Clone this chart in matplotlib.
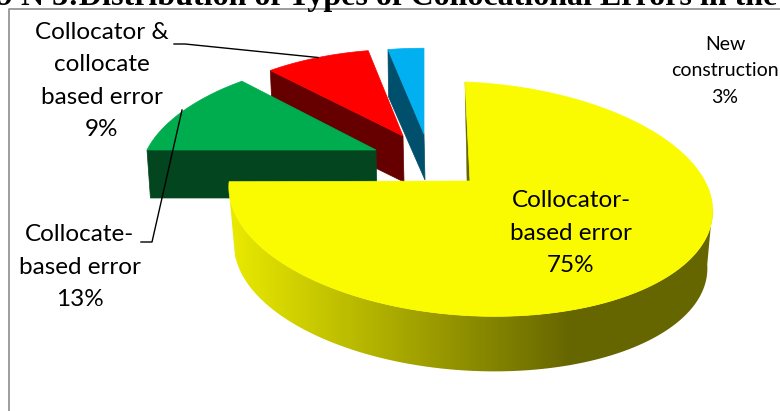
import numpy as np
import matplotlib
matplotlib.use('Agg')
import matplotlib.pyplot as plt
from matplotlib.patches import Polygon
from matplotlib.colors import LinearSegmentedColormap

labels=['Collocator-\nbased error\n75%','Collocate-\nbased error\n13%','Collocator &\ncollocate\nbased error\n9%','New\nconstruction\n3%']
shares=[75,13,9,3]
top_colors=['#fafa00','#00ad4e','#ff0000','#00b0f0']
wall_colors=['#666600','#03451f','#660000','#004f6c']

# per slice layout: apex x, apex y, rx, ry, x perspective, skew, tilt, angle stretch, wall depth, wall shrink
layout=[(470,181,239,114,0.154,5,0.04,0.981,58,0.978),
        (376,150,229,105,0.232,0,0,1,48,0.985),
        (403,136,222,100,0.20,0,0,1,46,0.985),
        (424,134,230,99,0.20,0,0,1,46,0.985)]
ky=0.154

def rim(i,a0,a1,n=120):
    # points on the projected circle, angles clockwise from 12 o'clock
    cx,cy,rx,ry,kx,sk,tilt,stretch,d,shrink=layout[i]
    th=np.radians(np.linspace(a0,a1,n)*stretch)
    u=np.sin(th)
    v=-np.cos(th)
    x=cx+rx*u/(1-kx*v)+sk*v
    y=cy+ry*v/(1-ky*v)+tilt*(x-cx)
    return x,y

def lower(i,x,y):
    cx,cy,rx,ry,kx,sk,tilt,stretch,d,shrink=layout[i]
    return cx+(x-cx)*shrink,cy+(y-cy)*shrink+d

edges=np.concatenate([[0],np.cumsum(shares)])*3.6

fig=plt.figure(figsize=(7.8,4.11),dpi=100)
ax=fig.add_axes([0,0,1,1])

# chart frame
ax.plot([8.5,8.5,780],[411,9.5,9.5],color='#8c8c8c',lw=1.2,zorder=1)

# exploded slices, back to front
for i in [3,2,1]:
    a0,a1=edges[i],edges[i+1]
    cx,cy=layout[i][:2]
    d=layout[i][8]
    x,y=rim(i,a0,a1)
    xb,yb=lower(i,x,y)
    ax.add_patch(Polygon([(x[0],y[0]),(cx,cy),(cx+1,cy+d),(xb[0],yb[0])],fc=wall_colors[i],ec=wall_colors[i],lw=0.5,zorder=2+(3-i)))
    ax.add_patch(Polygon(np.column_stack([np.r_[cx,x],np.r_[cy,y]]),fc=top_colors[i],ec=top_colors[i],lw=0.5,zorder=2.5+(3-i)))

# yellow slice: wall shaded from left to right
a0,a1=edges[0],edges[1]
x,y=rim(0,100,266,220)
xb,yb=lower(0,x,y)
cmap=LinearSegmentedColormap.from_list('wall',['#e8e800','#666600'])
shade=np.linspace(0,1,256).reshape(1,-1)
wall=Polygon(np.column_stack([np.r_[x,xb[::-1]],np.r_[y,yb[::-1]]]),fc='none',ec='none',transform=ax.transData)
ax.add_patch(wall)
for img,ext in [(shade,(235,570,400,150)),(np.ones((1,1)),(569,725,400,150)),(np.zeros((1,1)),(220,236,400,150))]:
    im=ax.imshow(img,cmap=cmap,vmin=0,vmax=1,extent=ext,aspect='auto',zorder=6)
    im.set_clip_path(wall)

cx,cy=layout[0][:2]
x,y=rim(0,a0,a1,300)
ax.add_patch(Polygon([(x[0],y[0]),(cx-3,cy),(cx,cy)],fc=wall_colors[0],ec=wall_colors[0],lw=0.3,zorder=6))
ax.add_patch(Polygon(np.column_stack([np.r_[cx,x],np.r_[cy,y]]),fc=top_colors[0],ec=top_colors[0],lw=0.5,zorder=7))

# leader lines
ax.plot([174,185,318],[44,44,57.5],color='black',lw=1,zorder=8)
ax.plot([182,152,141],[110,242,242],color='black',lw=1,zorder=8)

big=dict(family='Lato',fontsize=17.5,ha='center',va='center',linespacing=1.65,color='black',zorder=9)
ax.text(571,233,labels[0],**big)
ax.text(80,267,labels[1],**big)
ax.text(102,81,labels[2],**big)
ax.text(725,71,labels[3],family='Lato',fontsize=14,ha='center',va='center',linespacing=1.7,color='black',zorder=9)

ax.text(-3,5,'9 N 3:Distribution of Types of Collocational Errors in the',family='Liberation Serif',fontweight='bold',fontsize=23,ha='left',va='baseline',zorder=9,clip_on=False)

ax.set_xlim(0,780)
ax.set_ylim(411,0)
ax.axis('off')
fig.savefig('out.png',dpi=100)
